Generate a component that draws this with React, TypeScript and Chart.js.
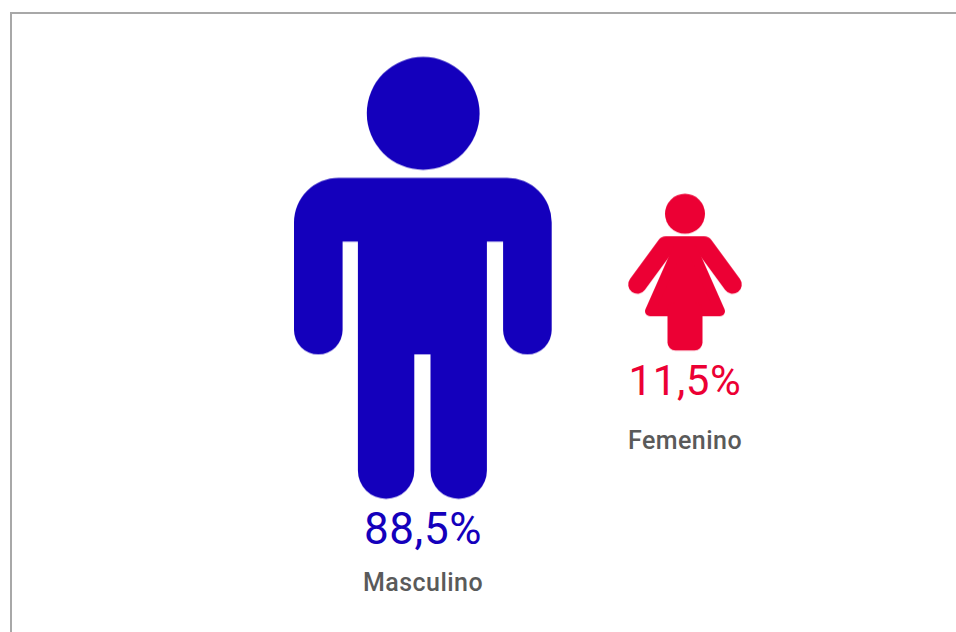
import React, { useEffect, useRef } from "react";
import { Chart, registerables } from "chart.js";

Chart.register(...registerables);

const categories = ["Masculino", "Femenino"];
const shares = [88.5, 11.5];
const shareLabels = ["88,5%", "11,5%"];
const colors = ["#1400BC", "#EC0034"];

const W = 956;
const H = 632;

type Drawer = (c: CanvasRenderingContext2D) => void;

// Man, in local pixels around his centre, native at a share of 88.5
const drawMan: Drawer = (c) => {
  c.beginPath();
  c.arc(0.2, -165, 56.4, 0, Math.PI * 2);
  c.fill();
  c.beginPath();
  c.moveTo(-84, -100.6);
  c.lineTo(84, -100.6);
  c.arcTo(128.7, -100.6, 128.7, -56, 44.7);
  c.lineTo(128.7, 51.7);
  c.arc(104.4, 51.7, 24.3, 0, Math.PI);
  c.lineTo(80.1, -36.7);
  c.lineTo(63.9, -36.7);
  c.lineTo(63.9, 192.3);
  c.arc(35.7, 192.3, 28.2, 0, Math.PI);
  c.lineTo(7.5, 76);
  c.lineTo(-8.7, 76);
  c.lineTo(-8.7, 192.3);
  c.arc(-36.9, 192.3, 28.2, 0, Math.PI);
  c.lineTo(-65.1, -36.7);
  c.lineTo(-80.4, -36.7);
  c.lineTo(-80.4, 51.7);
  c.arc(-104.7, 51.7, 24.3, 0, Math.PI);
  c.lineTo(-129, -56);
  c.arcTo(-129, -100.6, -84, -100.6, 44.7);
  c.closePath();
  c.fill();
};

// Woman, in local pixels around her centre, native at a share of 11.5
const drawWoman: Drawer = (c) => {
  c.lineJoin = "round";
  c.lineCap = "round";
  c.beginPath();
  c.arc(0, -58.4, 20, 0, Math.PI * 2);
  c.fill();
  c.lineWidth = 18.4;
  c.beginPath();
  c.moveTo(-47.6, 12.3);
  c.lineTo(-19, -26.7);
  c.lineTo(19, -26.7);
  c.lineTo(47.6, 12.3);
  c.stroke();
  c.lineWidth = 10;
  c.beginPath();
  c.moveTo(-8, -22);
  c.lineTo(8, -22);
  c.lineTo(35, 39);
  c.lineTo(-35, 39);
  c.closePath();
  c.fill();
  c.stroke();
  c.beginPath();
  c.roundRect(-17.5, 30, 35, 48.3, 8);
  c.fill();
};

const icons = [
  { draw: drawMan, refShare: 88.5 },
  { draw: drawWoman, refShare: 11.5 },
];

function makeIcon(i: number): HTMLCanvasElement {
  const s = Math.sqrt(shares[i] / icons[i].refShare);
  const cv = document.createElement("canvas");
  const size = Math.ceil(480 * s);
  cv.width = cv.height = size + (size % 2);
  const c = cv.getContext("2d")!;
  c.translate(cv.width / 2, cv.height / 2);
  c.scale(s, s);
  c.fillStyle = colors[i];
  c.strokeStyle = colors[i];
  icons[i].draw(c);
  return cv;
}

// Text baselines below each mark's centre, and the sizes of the value text
const valueOffsets = [265.5, 122.5];
const labelOffsets = [313, 177];
const valueFontSizes = [44, 42];

const textPlugin = {
  id: "iconText",
  afterDatasetsDraw(chart: Chart) {
    const ctx = chart.ctx as any;
    const meta = chart.getDatasetMeta(0);
    ctx.save();
    ctx.textAlign = "center";
    ctx.textBaseline = "alphabetic";
    meta.data.forEach((pt: any, i: number) => {
      ctx.font = `400 ${valueFontSizes[i]}px Roboto, "Noto Sans", sans-serif`;
      ctx.letterSpacing = "0.6px";
      ctx.fillStyle = colors[i];
      ctx.fillText(shareLabels[i], pt.x, pt.y + valueOffsets[i]);
      ctx.font = '500 25px Roboto, "Noto Sans", sans-serif';
      ctx.letterSpacing = "0.45px";
      ctx.fillStyle = "#5a5a5a";
      ctx.fillText(categories[i], pt.x, pt.y + labelOffsets[i]);
    });
    ctx.restore();
  },
};

export default function App() {
  const ref = useRef<HTMLCanvasElement | null>(null);

  useEffect(() => {
    const canvas = ref.current!;
    canvas.getContext("2d", { alpha: false });
    const iconImages = shares.map((_, i) => makeIcon(i));
    const chart = new Chart(canvas, {
      type: "line",
      data: {
        labels: categories,
        datasets: [
          {
            data: shares,
            showLine: false,
            clip: false,
            pointRadius: 10,
            pointStyle: (ctx: any) => iconImages[ctx.dataIndex],
          } as any,
        ],
      },
      options: {
        animation: false,
        responsive: false,
        events: [],
        layout: { padding: { left: 423, right: W - 685, top: 0, bottom: 0 } },
        plugins: { legend: { display: false }, title: { display: false }, tooltip: { enabled: false } },
        scales: {
          x: { type: "category", display: false },
          y: { type: "linear", display: false, reverse: true, min: -3270.3, max: 4393.1 },
        },
      },
      plugins: [
        {
          id: "paper",
          beforeDraw(c: Chart) {
            c.ctx.save();
            c.ctx.fillStyle = "#ffffff";
            c.ctx.fillRect(0, 0, W, H);
            c.ctx.fillStyle = "#a8a8a8";
            c.ctx.fillRect(10, 12, W - 10, 2);
            c.ctx.fillRect(10, 12, 2, H - 12);
            c.ctx.restore();
          },
        },
        textPlugin,
      ],
    });
    return () => chart.destroy();
  }, []);

  return (
    <div style={{ position: "fixed", inset: 0, overflow: "hidden", background: "#fff" }}>
      <canvas ref={ref} width={W} height={H} style={{ display: "block" }} />
    </div>
  );
}
